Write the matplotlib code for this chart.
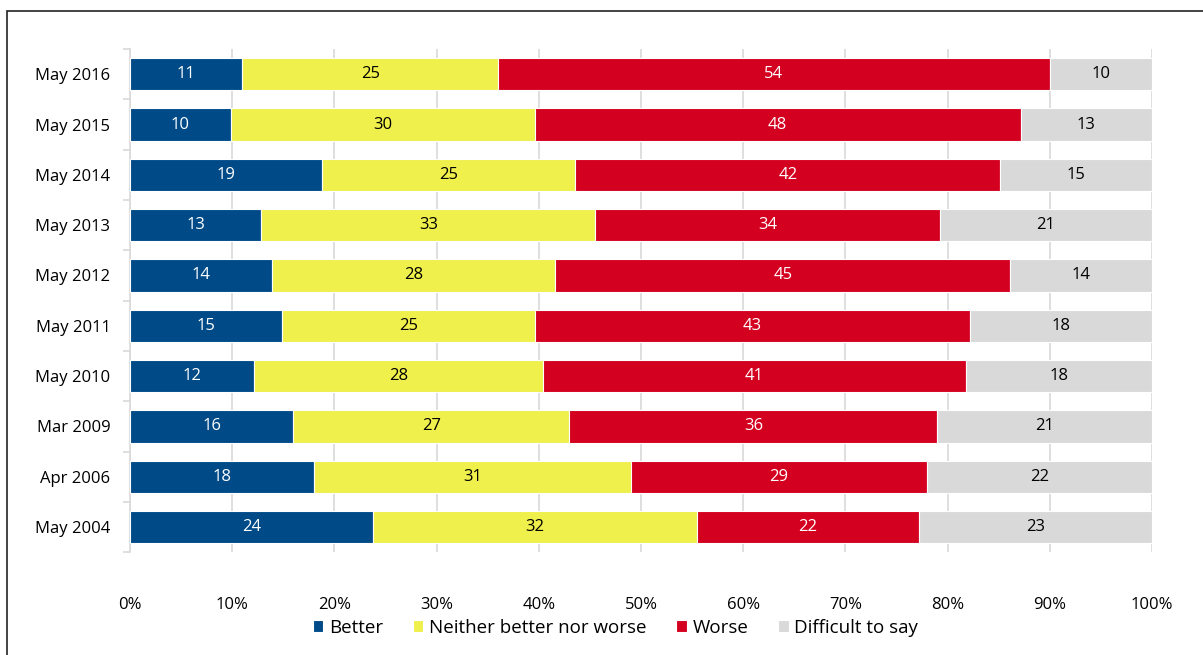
import numpy as np
import matplotlib.pyplot as plt
from matplotlib.patches import Rectangle

plt.rcParams['font.family'] = ['Open Sans', 'DejaVu Sans']

periods = ['May 2016', 'May 2015', 'May 2014', 'May 2013', 'May 2012',
           'May 2011', 'May 2010', 'Mar 2009', 'Apr 2006', 'May 2004']
better = [11, 10, 19, 13, 14, 15, 12, 16, 18, 24]
neither = [25, 30, 25, 33, 28, 25, 28, 27, 31, 32]
worse = [54, 48, 42, 34, 45, 43, 41, 36, 29, 22]
difficult = [10, 13, 15, 21, 14, 18, 18, 21, 22, 23]

series = [('Better', better, '#004a87', 'white'),
          ('Neither better nor worse', neither, '#f0f04c', 'black'),
          ('Worse', worse, '#d4001f', 'white'),
          ('Difficult to say', difficult, '#d9d9d9', 'black')]

data = np.array([better, neither, worse, difficult], dtype=float)
totals = data.sum(axis=0)
shares = data / totals * 100

fig = plt.figure(figsize=(12.03, 6.55), dpi=100)
ax = fig.add_axes([0.108, 0.157, 0.8497, 0.768])

y = np.arange(len(periods))[::-1]
left = np.zeros(len(periods))
for i, (name, vals, col, tcol) in enumerate(series):
    ax.barh(y, shares[i], left=left, height=0.64, color=col, label=name,
            edgecolor='white', linewidth=0.8, zorder=3)
    for yy, l, w, v in zip(y, left, shares[i], vals):
        ax.text(l + w / 2, yy, str(v), ha='center', va='center',
                color=tcol, fontsize=12, zorder=4)
    left += shares[i]

ax.set_xlim(0, 100)
ax.set_ylim(-0.5, len(periods) - 0.5)
ax.set_xticks(np.arange(0, 101, 10))
ax.set_xticklabels([f'{t}%' for t in range(0, 101, 10)], fontsize=12)
ax.set_yticks(y)
ax.set_yticklabels(periods, fontsize=12)
ax.set_yticks(np.arange(-0.5, len(periods), 1), minor=True)
ax.tick_params(axis='y', which='major', length=0, pad=14)
ax.tick_params(axis='y', which='minor', length=5, color='#d9d9d9', width=1.2)
ax.tick_params(axis='x', length=0, pad=32)
ax.grid(axis='x', color='#d9d9d9', linewidth=1.2, zorder=0)
for s in ['top', 'right', 'bottom']:
    ax.spines[s].set_visible(False)
ax.spines['left'].set_color('#d9d9d9')
ax.spines['left'].set_linewidth(1.2)

ax.legend(loc='center', bbox_to_anchor=(0.475, -0.15), ncol=4, frameon=False,
          fontsize=13.5, handlelength=0.55, handleheight=0.55, handletextpad=0.3,
          columnspacing=1.6)

# outer frame (runs off the right and bottom of the image)
fig.patches.append(Rectangle((0.006, -0.1), 1.2, 1.083, transform=fig.transFigure,
                             fill=False, edgecolor='#222222', linewidth=1.2))

fig.savefig('out.png', dpi=100)
